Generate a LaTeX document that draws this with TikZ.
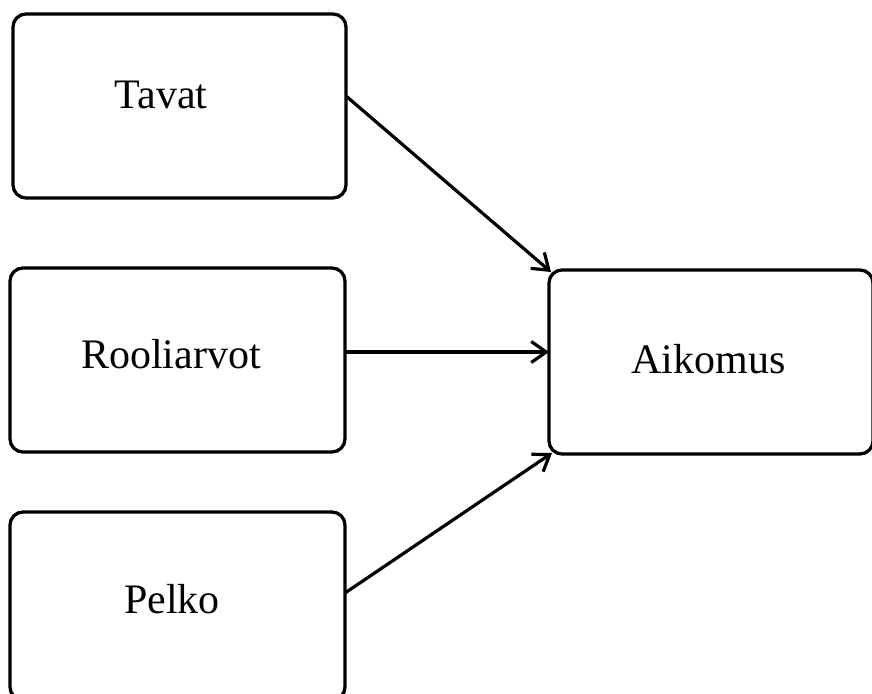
\documentclass[tikz,border=0pt]{standalone}
\usepackage{fontspec}
\setmainfont{Liberation Serif}
\usetikzlibrary{arrows.meta}
\begin{document}
\begin{tikzpicture}[x=1pt,y=-1pt,
  box/.style={draw=black, line width=3.3pt, rounded corners=13pt, inner sep=0pt, outer sep=0pt},
  lbl/.style={inner sep=0pt, anchor=base, font=\fontsize{42}{50}\selectfont},
  conn/.style={line width=3.2pt, -{Straight Barb[length=15pt,width=21pt,line width=3.2pt]}}]
\useasboundingbox (0,0) rectangle (872,693);
\clip (0,0) rectangle (872,693);
\fill[white] (0,0) rectangle (872,693);
\node[box, minimum width=333pt, minimum height=184pt] (tavat) at (179.5,106) {};
\node[box, minimum width=335pt, minimum height=184pt] (rooli) at (177.5,360) {};
\node[box, minimum width=335pt, minimum height=188pt] (pelko) at (177.5,606) {};
\node[box, minimum width=324pt, minimum height=184pt] (aikomus) at (711,362) {};
\node[lbl] (tavatT) at (161,108) {Tavat};
\node[lbl] (rooliT) at (171,368) {Rooliarvot};
\node[lbl] (pelkoT) at (172,613) {Pelko};
\node[lbl] (aikomusT) at (708.5,373) {Aikomus};
\draw[conn] ([yshift=10pt]tavat.east) -- ([shift={(2pt,-2pt)}]aikomus.north west);
\draw[conn] ([yshift=8pt]rooli.east) -- ([yshift=10pt]aikomus.west);
\draw[conn] ([yshift=13pt]pelko.east) -- ([shift={(3pt,1pt)}]aikomus.south west);
\end{tikzpicture}
\end{document}
